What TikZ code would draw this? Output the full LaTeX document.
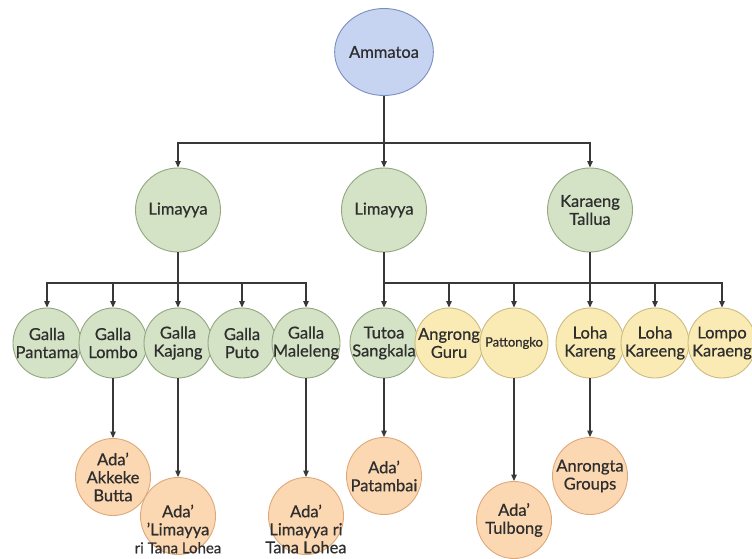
\documentclass[tikz,border=0pt]{standalone}
\usepackage{fontspec}
\setmainfont{Lato}[FakeBold=0.6]
\usetikzlibrary{shapes.geometric,arrows.meta}
\definecolor{blueF}{HTML}{C6D4F2}
\definecolor{blueD}{HTML}{7B8FBF}
\definecolor{greenF}{HTML}{D4E2C5}
\definecolor{greenD}{HTML}{93A782}
\definecolor{yelF}{HTML}{FAEBB5}
\definecolor{yelD}{HTML}{CDBB7E}
\definecolor{orF}{HTML}{FCD8B2}
\definecolor{orD}{HTML}{DDA87A}
\definecolor{txtC}{HTML}{2E2E2E}
\definecolor{lineC}{HTML}{383838}
\newcommand{\zl}[1]{\makebox[0pt]{#1}}
\begin{document}
\begin{tikzpicture}[x=1pt,y=-1pt,
  base/.style={ellipse,draw,line width=0.9pt,inner sep=0pt,align=center,
    font=\fontsize{16.5}{18}\selectfont,text=txtC},
  l1/.style={base,fill=blueF,draw=blueD,minimum width=87pt,minimum height=87pt},
  l2/.style={base,fill=greenF,draw=greenD,minimum width=85pt,minimum height=84pt},
  l3g/.style={base,fill=greenF,draw=greenD,minimum width=68pt,minimum height=70pt},
  l3y/.style={base,fill=yelF,draw=yelD,minimum width=68pt,minimum height=70pt},
  l4/.style={base,fill=orF,draw=orD,minimum width=75pt,minimum height=77pt},
  txt/.style={align=center,inner sep=0pt,font=\fontsize{16.5}{18}\selectfont,text=txtC},
  conn/.style={draw=lineC,line width=1.2pt},
  arr/.style={conn,-{Triangle[length=6.5pt,width=5.5pt]}}]
\useasboundingbox[fill=white] (0,0) rectangle (752,559);
% level 1
\node[l1] (amm) at (384,52) {Ammatoa};
% level 2
\node[l2] (lim1) at (178,210) {Limayya};
\node[l2] (lim2) at (384,210) {Limayya};
\node[l2] (kt) at (590,210) {\zl{Karaeng}\\\zl{Tallua}};
% level 3 left
\node[l3g] (gp) at (47,343) {\zl{Galla}\\\zl{Pantama}};
\node[l3g] (gl) at (113,343) {\zl{Galla}\\\zl{Lombo}};
\node[l3g] (gk) at (178,343) {\zl{Galla}\\\zl{Kajang}};
\node[l3g] (gpu) at (242,343) {\zl{Galla}\\\zl{Puto}};
\node[l3g] (gm) at (306,343) {\zl{Galla}\\\zl{Maleleng}};
% level 3 right
\node[l3g] (tut) at (384,343) {\zl{Tutoa}\\\zl{Sangkala}};
\node[l3y] (ag) at (449,343) {\zl{Angrong}\\\zl{Guru}};
\node[l3y] (pt) at (514,343) {\zl{\fontsize{13}{15}\selectfont Pattongko}};
\node[l3y] (lk) at (590,343) {\zl{Loha}\\\zl{Kareng}};
\node[l3y] (lkk) at (655,343) {\zl{Loha}\\\zl{Kareeng}};
\node[l3y] (lpk) at (722,343) {\zl{Lompo}\\\zl{Karaeng}};
% level 4
\node[l4] (akk) at (113,477) {\zl{Ada’}\\\zl{Akkeke}\\\zl{Butta}};
\node[l4] (lrt1) at (178,516) {};
\node[txt] (lrt1t) at ([yshift=-13pt]lrt1.center) {\zl{Ada’}\\\zl{’Limayya}\\\zl{\fontsize{15}{18}\selectfont ri Tana Lohea}};
\node[l4] (lrt2) at (306,516) {};
\node[txt] (lrt2t) at ([yshift=-13pt]lrt2.center) {\zl{Ada’}\\\zl{Limayya ri}\\\zl{Tana Lohea}};
\node[l4] (pat) at (384,476) {\zl{Ada’}\\\zl{Patambai}};
\node[l4] (tul) at (514,520) {\zl{Ada’}\\\zl{Tulbong}};
\node[l4] (anr) at (590,476) {\zl{Anrongta}\\\zl{Groups}};
% connectors level 1 -> 2
\coordinate (b1) at (384,143);
\draw[arr] (amm.south) -- (lim2.north);
\draw[arr] (b1) -| (lim1.north);
\draw[arr] (b1) -| (kt.north);
% level 2 -> 3 left
\coordinate (bL) at (178,283);
\draw[arr] (lim1.south) -- (gk.north);
\draw[arr] (bL) -| (gp.north);
\draw[arr] (bL) -| (gl.north);
\draw[arr] (bL) -| (gpu.north);
\draw[arr] (bL) -| (gm.north);
% level 2 -> 3 right
\coordinate (bR) at (384,283);
\draw[arr] (lim2.south) -- (tut.north);
\draw[arr] (kt.south) -- (lk.north);
\draw[arr] (bR) -| (ag.north);
\draw[arr] (bR) -| (pt.north);
\draw[arr] (bR) -| (lkk.north);
\draw[arr] (bR) -| (lpk.north);
% level 3 -> 4
\draw[arr] (gl.south) -- (akk.north);
\draw[arr] (gk.south) -- (lrt1.north);
\draw[arr] (gm.south) -- (lrt2.north);
\draw[arr] (tut.south) -- (pat.north);
\draw[arr] (pt.south) -- (tul.north);
\draw[arr] (lk.south) -- (anr.north);
\end{tikzpicture}
\end{document}
